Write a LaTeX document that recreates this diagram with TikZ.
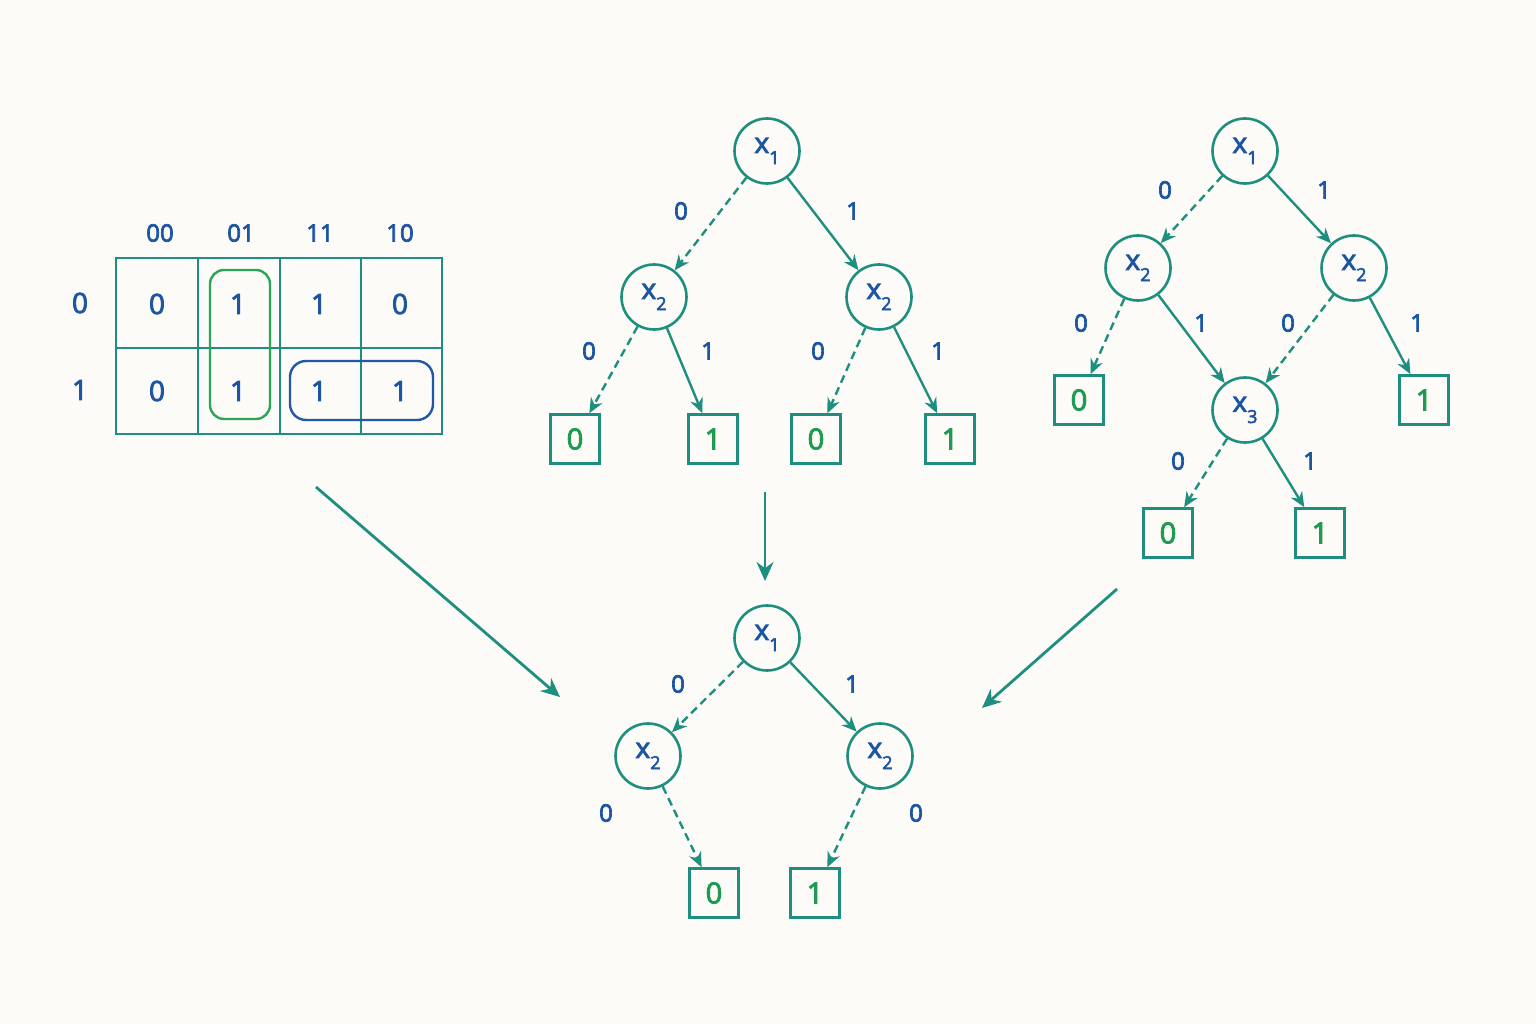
\documentclass[tikz,border=0pt]{standalone}
\usepackage{fontspec}
\setmainfont{Open Sans}[FakeBold=3]
\usetikzlibrary{arrows.meta}
\definecolor{tealline}{HTML}{1E8F7E}
\definecolor{labelblue}{HTML}{1C56A2}
\definecolor{termgreen}{HTML}{1F9A52}
\definecolor{loopgreen}{HTML}{2AA655}
\definecolor{loopblue}{HTML}{2356A6}
\definecolor{paper}{HTML}{FCFBF7}
\newcommand{\xv}[1]{x\raisebox{-0.75ex}{\fontsize{18}{20}\selectfont #1}}

\begin{document}
\begin{tikzpicture}[x=1pt, y=-1pt,
			varnode/.style={circle, draw=tealline, line width=2.6pt, minimum size=65pt, inner sep=0pt, text=labelblue, font=\fontsize{28}{32}\selectfont},
			termnode/.style={rectangle, draw=tealline, line width=2.6pt, minimum size=49pt, inner sep=0pt, text=termgreen, font=\fontsize{29}{32}\selectfont},
			edgelabel/.style={text=labelblue, font=\fontsize{24}{28}\selectfont},
			cellnode/.style={text=labelblue, font=\fontsize{28}{32}\selectfont},
			hi/.style={draw=tealline, line width=2.4pt, -{Stealth[length=15pt,width=13pt]}},
			lo/.style={hi, dash pattern=on 8pt off 5pt},
			bigarrow/.style={draw=tealline, line width=2.8pt, -{Stealth[length=19pt,width=17pt]}},
		]
		
			\fill[paper] (0,0) rectangle (1536,1024);
		
			%K-map
			\draw[tealline, line width=2.6pt] (116,258) rectangle (442,434);
			\draw[tealline, line width=2.6pt] (116,348) -- (442,348)
				(198,258) -- (198,434) (280,258) -- (280,434) (361,258) -- (361,434);
			\node[edgelabel] (h00) at (160,233) {00};
			\node[edgelabel] (h01) at (241,233) {01};
			\node[edgelabel] (h11) at (320,233) {11};
			\node[edgelabel] (h10) at (400,233) {10};
			\node[cellnode] (r0) at (80,303) {0};
			\node[cellnode] (r1) at (80,390) {1};
			\foreach \v [count=\i] in {0,1,1,0}
				\node[cellnode] (c0\i) at ({157+81*(\i-1)},304) {\v};
			\foreach \v [count=\i] in {0,1,1,1}
				\node[cellnode] (c1\i) at ({157+81*(\i-1)},391) {\v};
			\draw[loopgreen, line width=2.4pt, rounded corners=14pt] (210,270) rectangle (270,419);
			\draw[loopblue, line width=2.4pt, rounded corners=16pt] (290,361) rectangle (433,420);
		
			%Nodes, full tree
			\node[varnode]	(m1)	at (767,151)	{\xv{1}};
			\node[varnode]	(m2a)	at (654,297)	{\xv{2}};
			\node[varnode]	(m2b)	at (879,297)	{\xv{2}};
			\node[termnode]	(m0a)	at (575,439)	{0};
			\node[termnode]	(m1a)	at (713,439)	{1};
			\node[termnode]	(m0b)	at (816,439)	{0};
			\node[termnode]	(m1b)	at (950,439)	{1};
		
			%Nodes, ordered tree
			\node[varnode]	(r1)	at (1245,151)	{\xv{1}};
			\node[varnode]	(r2a)	at (1138,268)	{\xv{2}};
			\node[varnode]	(r2b)	at (1354,268)	{\xv{2}};
			\node[varnode]	(r3)	at (1245,410)	{\xv{3}};
			\node[termnode]	(r0a)	at (1079,400)	{0};
			\node[termnode]	(r1a)	at (1424,400)	{1};
			\node[termnode]	(r0b)	at (1168,533)	{0};
			\node[termnode]	(r1b)	at (1320,533)	{1};
		
			%Nodes, reduced tree
			\node[varnode]	(b1)	at (767,638)	{\xv{1}};
			\node[varnode]	(b2a)	at (648,756)	{\xv{2}};
			\node[varnode]	(b2b)	at (880,756)	{\xv{2}};
			\node[termnode]	(b0)	at (714,893)	{0};
			\node[termnode]	(b1t)	at (815,893)	{1};
		
			%Lines
			\draw[lo]	(m1) -- (m2a);
			\draw[hi]	(m1) -- (m2b);
			\draw[lo]	(m2a) -- (m0a);
			\draw[hi]	(m2a) -- (m1a);
			\draw[lo]	(m2b) -- (m0b);
			\draw[hi]	(m2b) -- (m1b);
		
			\draw[lo]	(r1) -- (r2a);
			\draw[hi]	(r1) -- (r2b);
			\draw[lo]	(r2a) -- (r0a);
			\draw[hi]	(r2a) -- (r3);
			\draw[lo]	(r2b) -- (r3);
			\draw[hi]	(r2b) -- (r1a);
			\draw[lo]	(r3) -- (r0b);
			\draw[hi]	(r3) -- (r1b);
		
			\draw[lo]	(b1) -- (b2a);
			\draw[hi]	(b1) -- (b2b);
			\draw[lo]	(b2a) -- (b0);
			\draw[lo]	(b2b) -- (b1t);
		
			%Edge labels
			\node[edgelabel] (e1) at (681,211) {0};
			\node[edgelabel] (e2) at (853,211) {1};
			\node[edgelabel] (e3) at (589,351) {0};
			\node[edgelabel] (e4) at (708,351) {1};
			\node[edgelabel] (e5) at (818,351) {0};
			\node[edgelabel] (e6) at (938,351) {1};
		
			\node[edgelabel] (f1) at (1165,190) {0};
			\node[edgelabel] (f2) at (1324,190) {1};
			\node[edgelabel] (f3) at (1081,323) {0};
			\node[edgelabel] (f4) at (1201,323) {1};
			\node[edgelabel] (f5) at (1288,323) {0};
			\node[edgelabel] (f6) at (1417,323) {1};
			\node[edgelabel] (f7) at (1178,461) {0};
			\node[edgelabel] (f8) at (1310,461) {1};
		
			\node[edgelabel] (g1) at (678,684) {0};
			\node[edgelabel] (g2) at (852,684) {1};
			\node[edgelabel] (g3) at (606,813) {0};
			\node[edgelabel] (g4) at (916,813) {0};
		
			%Big arrows
			\coordinate (kout) at (316,487);
			\coordinate (kin)  at (560,697);
			\coordinate (mout) at (765,492);
			\coordinate (min)  at (765,581);
			\coordinate (rout) at (1117,589);
			\coordinate (rin)  at (982,708);
			\draw[bigarrow]	(kout) -- (kin);
			\draw[bigarrow]	(mout) -- (min);
			\draw[bigarrow]	(rout) -- (rin);
		
		\end{tikzpicture}
\end{document}
